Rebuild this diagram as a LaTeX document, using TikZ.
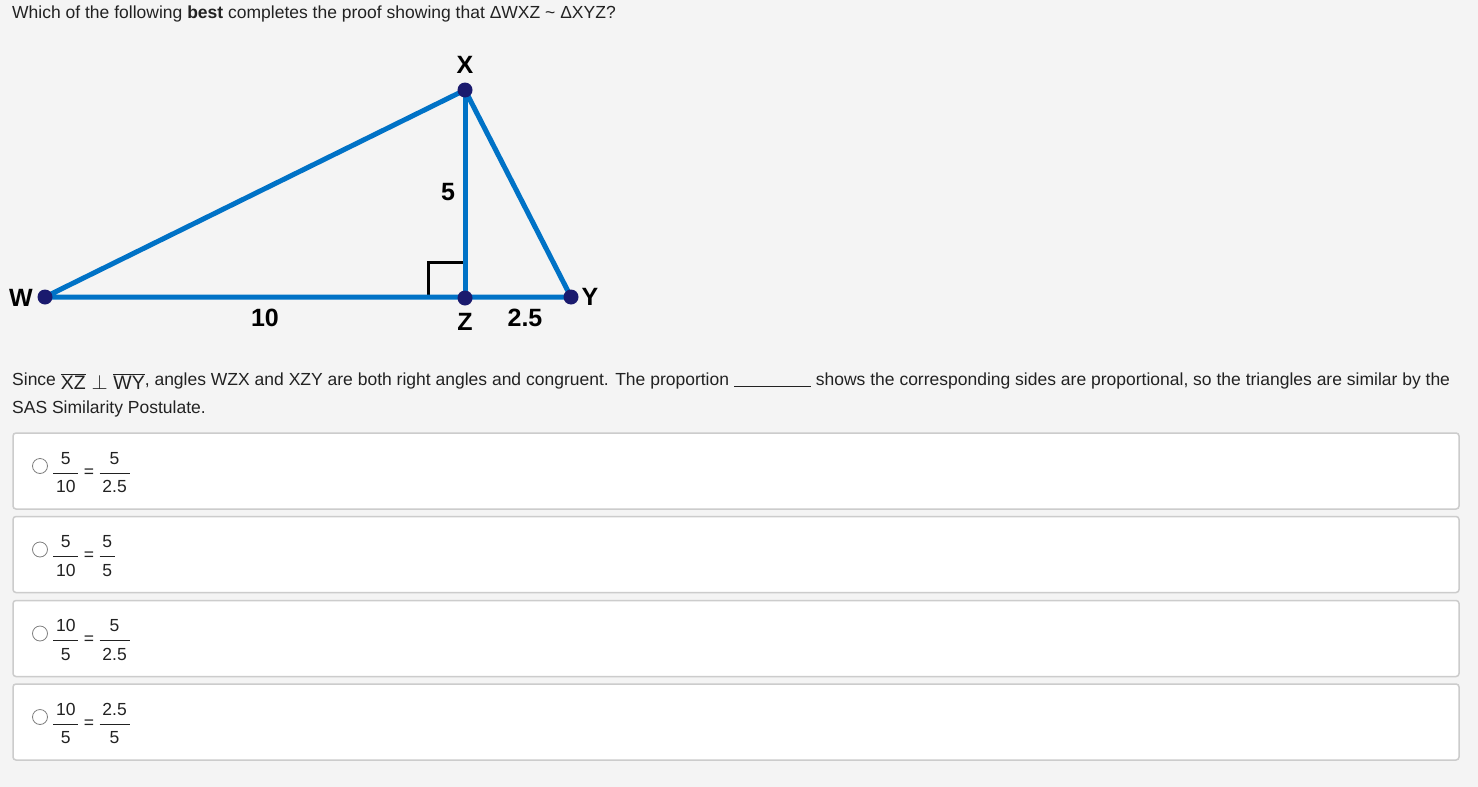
\documentclass[tikz,border=0pt]{standalone}
\usepackage{fontspec}
\setmainfont{Liberation Sans}
\usetikzlibrary{positioning}
\definecolor{pagegray}{RGB}{244,244,244}
\definecolor{segblue}{RGB}{0,114,198}
\definecolor{dotnavy}{RGB}{26,26,110}
\definecolor{boxedge}{RGB}{204,204,204}
\definecolor{txtgray}{RGB}{34,34,34}
\newcommand{\fracbox}[2]{\renewcommand{\arraystretch}{1.3}\setlength{\arrayrulewidth}{1pt}%
  \begin{tabular}{@{\,}c@{\,}}#1\\\hline #2\end{tabular}}

\begin{document}
\begin{tikzpicture}[x=1pt, y=-1pt,
    seg/.style={segblue, line width=5pt},
    vlabel/.style={font=\fontsize{25}{30}\selectfont\bfseries, inner sep=0pt},
    body/.style={font=\fontsize{17.5}{21}\selectfont, text=txtgray, anchor=base west, inner sep=0pt},
    optbox/.style={draw=boxedge, fill=white, line width=1.5pt, rounded corners=3pt},
    radio/.style={circle, draw=gray, fill=white, minimum size=15pt, inner sep=0pt, line width=0.8pt},
    fracnode/.style={font=\fontsize{17.5}{21}\selectfont, text=txtgray, inner sep=0pt}]
    \fill[pagegray] (0,0) rectangle (1478,787);
    \useasboundingbox (0,0) rectangle (1478,787);

    % question
    \node[body] (question) at (12,19) {Which of the following \textbf{best} completes the proof showing that ΔWXZ \textasciitilde\ ΔXYZ?};

    % triangle
    \coordinate (W) at (45,297);
    \coordinate (X) at (465,90);
    \coordinate (Y) at (571,297);
    \coordinate (Z) at (465,298);
    \draw[black, line width=3pt] (428,295) -- (428,262) -- (463,262);
    \draw[seg, line join=round] (W) -- (X) -- (Y) -- cycle;
    \draw[seg] (X) -- (Z);
    \foreach \p in {W,X,Y,Z}
        \fill[dotnavy] (\p) circle (7.5pt);
    \node[vlabel] (labX) at (465,65) {X};
    \node[vlabel] (labW) at (21,298) {W};
    \node[vlabel] (labY) at (590,297) {Y};
    \node[vlabel] (labZ) at (465,322) {Z};
    \node[vlabel] (lab10) at (265,318) {10};
    \node[vlabel] (lab25) at (525,318) {2.5};
    \node[vlabel] (lab5) at (448,192) {5};

    % proof text
    \node[body] (since) at (12,385) {Since \raisebox{-4pt}{\fontsize{19.5}{22}\selectfont$\overline{\mbox{XZ}}\perp\overline{\mbox{WY}}$}, angles WZX and XZY are both right angles and congruent. The proportion \rule[-2pt]{77pt}{0.8pt} shows the corresponding sides are proportional, so the triangles are similar by the};
    \node[body] (sas) at (12,413) {SAS Similarity Postulate.};

    % answer choices
    \foreach \i/\yy/\na/\da/\nb/\db in {1/473/5/10/5/2.5, 2/556.5/5/10/5/5, 3/640.5/10/5/5/2.5, 4/724/10/5/2.5/5} {
        \draw[optbox] (13,\yy-40) rectangle (1459,\yy+36);
        \node[radio] (rad\i) at (40,\yy-7) {};
        \node[fracnode, anchor=west] (fa\i) at (53,\yy) {\fracbox{\na}{\da}};
        \node[fracnode, right=5pt of fa\i] (eq\i) {=};
        \node[fracnode, right=5pt of eq\i] (fb\i) {\fracbox{\nb}{\db}};
    }
\end{tikzpicture}
\end{document}
